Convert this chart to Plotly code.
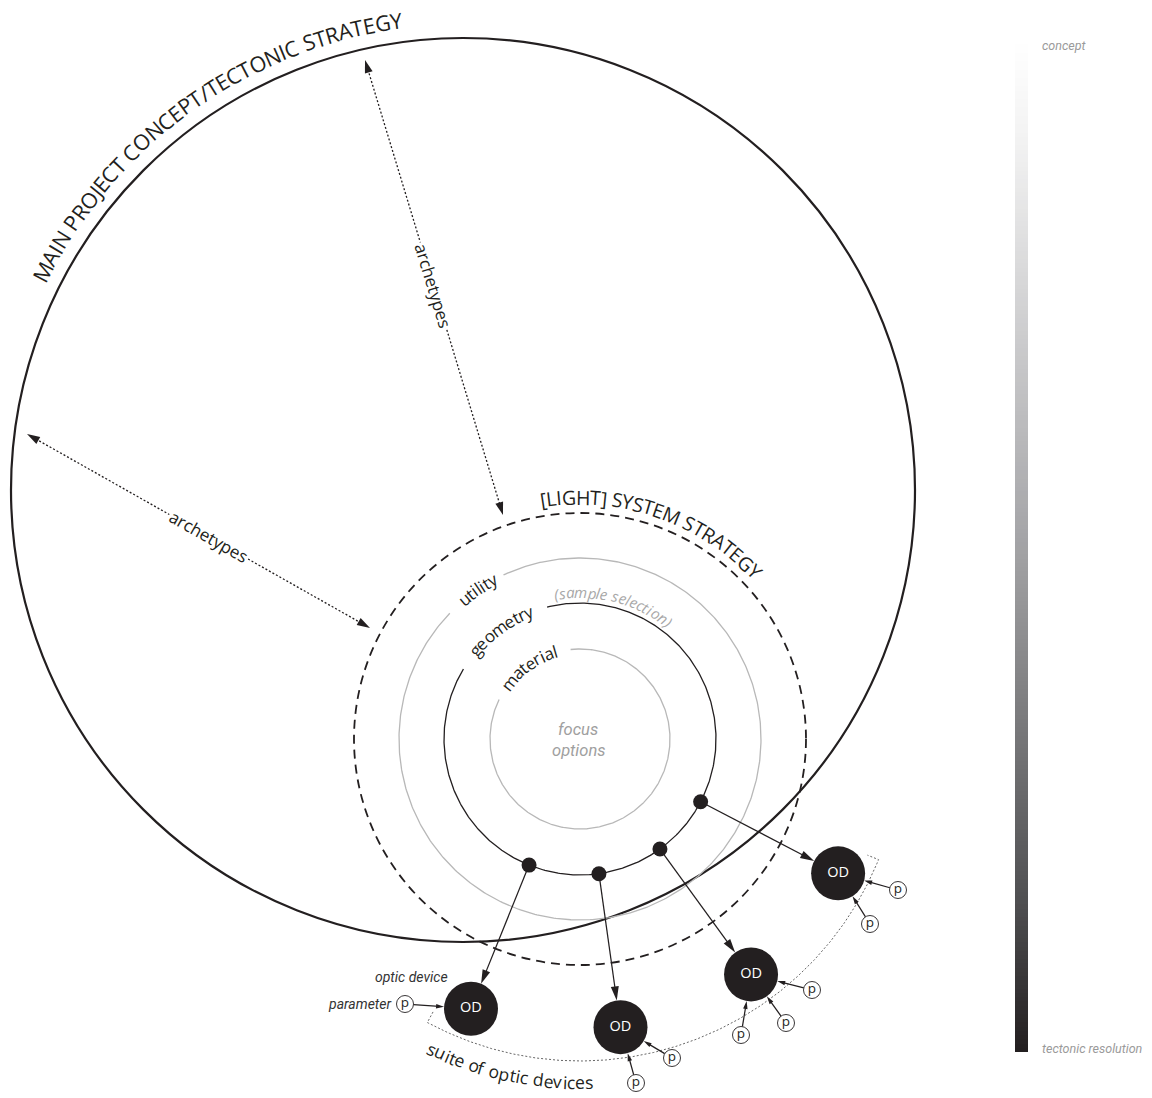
import numpy as np
import plotly.graph_objects as go

W, H = 1152, 1098

# ---------------- data ----------------
big_center = (463, 490)
big_radius = 452
big_title = "MAIN PROJECT CONCEPT/TECTONIC STRATEGY"
big_title_mid = 125.6            # degrees, centre of the curved title

sys_center = (580, 739)
sys_radius = 226
sys_title = "[LIGHT] SYSTEM STRATEGY"
sys_title_mid = 70.9

ring_names = ["utility", "geometry", "material"]
ring_radii = [181, 136, 90]
ring_colors = ["#b8b8b8", "#231f20", "#b8b8b8"]
ring_gap_start = [115, 104, 96]
ring_gap_end = [136, 149, 154]
ring_label_mid = [124.5, 126.0, 125.5]

sample_text = "(sample selection)"
sample_mid = 76.0

focus_lines = ["focus", "options"]

device_angles = [-112, -82, -54, -27.5]
dot_ring_radius = 136
device_ring_radius = 291
device_radius = 27
device_label = "OD"

suite_radius = 322
suite_span = (-118.3, -22)
suite_text = "suite of optic devices"
suite_text_mid = 258.0

param_x = [405, 672, 636, 812, 786, 741, 898, 870]
param_y = [1004, 1058, 1083, 990, 1023, 1035, 890, 924]
param_device = [0, 1, 1, 2, 2, 2, 3, 3]
param_label = "p"

archetype_start_x = [365, 27]
archetype_start_y = [60, 434]
archetype_end_x = [503, 370]
archetype_end_y = [515, 628]
archetype_label_t = [0.495, 0.53]
archetype_label = "archetypes"

scale_top_label = "concept"
scale_bottom_label = "tectonic resolution"
scale_x = [1015, 1028]
scale_y = [40, 1052]

INK = "#231f20"
SANS = "Open Sans"
LIGHT = "Roboto"

# ---------------- helpers ----------------
CW = {
    'A': .633, 'B': .647, 'C': .631, 'D': .729, 'E': .556, 'F': .516, 'G': .728, 'H': .738, 'I': .279,
    'J': .267, 'K': .614, 'L': .519, 'M': .903, 'N': .754, 'O': .779, 'P': .602, 'R': .618, 'S': .549,
    'T': .553, 'U': .728, 'V': .582, 'W': .894, 'X': .577, 'Y': .556, 'Z': .56,
    'a': .556, 'b': .613, 'c': .48, 'd': .613, 'e': .561, 'f': .336, 'g': .546, 'h': .613, 'i': .258,
    'j': .258, 'k': .53, 'l': .258, 'm': .932, 'n': .613, 'o': .602, 'p': .613, 'q': .613, 'r': .408,
    's': .477, 't': .353, 'u': .613, 'v': .5, 'w': .775, 'x': .514, 'y': .5, 'z': .47,
    ' ': .26, '/': .371, '[': .296, ']': .296, '(': .296, ')': .296,
}

annotations = []
shapes = []


def arc_text(text, c, r, a_mid, size, color, family, italic=False, clockwise=True, track=1.0):
    widths = np.array([CW.get(ch, .55) for ch in text]) * size * track
    centers = np.cumsum(widths) - widths / 2
    offs = centers - widths.sum() / 2
    for ch, o in zip(text, offs):
        if ch == ' ':
            continue
        da = np.degrees(o / r)
        a = a_mid - da if clockwise else a_mid + da
        ar = np.radians(a)
        x = c[0] + r * np.cos(ar)
        y = c[1] - r * np.sin(ar)
        ang = (90 - a) if clockwise else (270 - a)
        annotations.append(dict(
            x=x, y=y, text=ch, textangle=ang, showarrow=False,
            xanchor='center', yanchor='middle',
            font=dict(family=family, size=size, color=color,
                      style='italic' if italic else 'normal')))


def polar(c, r, a):
    ar = np.radians(a)
    return c[0] + r * np.cos(ar), c[1] - r * np.sin(ar)


def head(tx, ty, ux, uy, L, Wd, color=INK):
    bx, by = tx - ux * L, ty - uy * L
    px, py = -uy, ux
    path = (f"M {tx:.2f},{ty:.2f} L {bx + px * Wd / 2:.2f},{by + py * Wd / 2:.2f} "
            f"L {bx - px * Wd / 2:.2f},{by - py * Wd / 2:.2f} Z")
    shapes.append(dict(type='path', path=path, xref='x', yref='y',
                       fillcolor=color, line=dict(width=0), layer='above'))


fig = go.Figure()

# ---------------- gradient scale ----------------
levels = np.linspace(0, 1, 240)
edges = np.linspace(scale_y[0], scale_y[1], len(levels) + 1)
fig.add_trace(go.Heatmap(
    x=scale_x, y=edges, z=levels.reshape(-1, 1),
    colorscale=[[0, '#ffffff'], [0.1, '#f2f2f2'], [0.5, '#a3a3a6'], [0.85, '#505052'], [1, '#231f20']],
    showscale=False, hoverinfo='skip'))
annotations.append(dict(x=scale_x[1] + 12, y=scale_y[0] + 5, text=scale_top_label, showarrow=False,
                        xanchor='left', yanchor='middle',
                        font=dict(family=LIGHT, size=12.5, color='#9a9a9a', style='italic')))
annotations.append(dict(x=scale_x[1] + 12, y=scale_y[1] - 4, text=scale_bottom_label, showarrow=False,
                        xanchor='left', yanchor='middle',
                        font=dict(family=LIGHT, size=12.5, color='#9a9a9a', style='italic')))

# ---------------- big circle ----------------
shapes.append(dict(type='circle', xref='x', yref='y',
                   x0=big_center[0] - big_radius, x1=big_center[0] + big_radius,
                   y0=big_center[1] - big_radius, y1=big_center[1] + big_radius,
                   line=dict(color=INK, width=2.2), layer='below'))
arc_text(big_title, big_center, big_radius + 22, big_title_mid, 21.5, INK, SANS)

# ---------------- dashed system circle ----------------
shapes.append(dict(type='circle', xref='x', yref='y',
                   x0=sys_center[0] - sys_radius, x1=sys_center[0] + sys_radius,
                   y0=sys_center[1] - sys_radius, y1=sys_center[1] + sys_radius,
                   line=dict(color=INK, width=1.8, dash='9px,6px'), layer='below'))
arc_text(sys_title, sys_center, sys_radius + 16, sys_title_mid, 19.5, INK, SANS)

# ---------------- rings ----------------
for name, r, col, g0, g1, lm in zip(ring_names, ring_radii, ring_colors, ring_gap_start,
                                    ring_gap_end, ring_label_mid):
    angs = np.linspace(g1, g0 + 360, 500)
    xs, ys = polar(sys_center, r, angs)
    fig.add_trace(go.Scatter(x=xs, y=ys, mode='lines', line=dict(color=col, width=1.3),
                             hoverinfo='skip', showlegend=False))
    arc_text(name, sys_center, r + 1, lm, 17, INK, SANS)

arc_text(sample_text, sys_center, ring_radii[1] + 11, sample_mid, 15, '#a8a8a8', SANS,
         italic=True, track=0.97)

for i, line in enumerate(focus_lines):
    annotations.append(dict(x=sys_center[0] - 2, y=sys_center[1] - 10 + 21 * i, text=line, showarrow=False,
                            xanchor='center', yanchor='middle',
                            font=dict(family=LIGHT, size=16.5, color='#a0a0a0', style='italic')))

# ---------------- suite arc ----------------
angs = np.linspace(suite_span[0], suite_span[1], 400)
sx, sy = polar(sys_center, suite_radius, angs)
tx0, ty0 = polar(sys_center, suite_radius - 12, suite_span[0])
tx1, ty1 = polar(sys_center, suite_radius - 12, suite_span[1])
fig.add_trace(go.Scatter(x=np.concatenate([[tx0], sx, [tx1]]), y=np.concatenate([[ty0], sy, [ty1]]),
                         mode='lines', line=dict(color='#555555', width=0.9, dash='2px,2px'),
                         hoverinfo='skip', showlegend=False))
arc_text(suite_text, sys_center, suite_radius + 21, suite_text_mid, 17.5, INK, SANS, clockwise=False)

# ---------------- archetype arrows ----------------
for x0, y0, x1, y1, tl in zip(archetype_start_x, archetype_start_y, archetype_end_x, archetype_end_y,
                              archetype_label_t):
    d = np.hypot(x1 - x0, y1 - y0)
    ux, uy = (x1 - x0) / d, (y1 - y0) / d
    fig.add_trace(go.Scatter(x=[x0 + ux * 10, x1 - ux * 10], y=[y0 + uy * 10, y1 - uy * 10], mode='lines',
                             line=dict(color=INK, width=1.3, dash='2px,2px'),
                             hoverinfo='skip', showlegend=False))
    head(x1, y1, ux, uy, 13, 8)
    head(x0, y0, -ux, -uy, 13, 8)
    ang = np.degrees(np.arctan2(y1 - y0, x1 - x0))
    annotations.append(dict(x=x0 + (x1 - x0) * tl, y=y0 + (y1 - y0) * tl, text=archetype_label,
                            textangle=ang, showarrow=False, xanchor='center', yanchor='middle',
                            bgcolor='white', borderpad=1,
                            font=dict(family=SANS, size=17, color=INK)))

# ---------------- device arrows ----------------
dev_x, dev_y, dot_x, dot_y = [], [], [], []
for a in device_angles:
    x, y = polar(sys_center, device_ring_radius, a)
    dev_x.append(x); dev_y.append(y)
    x, y = polar(sys_center, dot_ring_radius, a)
    dot_x.append(x); dot_y.append(y)

lx, ly = [], []
for x0, y0, x1, y1 in zip(dot_x, dot_y, dev_x, dev_y):
    d = np.hypot(x1 - x0, y1 - y0)
    ux, uy = (x1 - x0) / d, (y1 - y0) / d
    tx, ty = x1 - ux * device_radius, y1 - uy * device_radius
    lx += [x0, tx - ux * 8, None]
    ly += [y0, ty - uy * 8, None]
    head(tx, ty, ux, uy, 14, 8)

# parameter arrows
for px, py, di in zip(param_x, param_y, param_device):
    x1, y1 = dev_x[di], dev_y[di]
    d = np.hypot(x1 - px, y1 - py)
    ux, uy = (x1 - px) / d, (y1 - py) / d
    tx, ty = x1 - ux * device_radius, y1 - uy * device_radius
    lx += [px + ux * 8.5, tx - ux * 5, None]
    ly += [py + uy * 8.5, ty - uy * 5, None]
    head(tx, ty, ux, uy, 8, 4.5)

fig.add_trace(go.Scatter(x=lx, y=ly, mode='lines', line=dict(color=INK, width=1.25),
                         hoverinfo='skip', showlegend=False))

# dots
fig.add_trace(go.Scatter(x=dot_x, y=dot_y, mode='markers',
                         marker=dict(size=15, color=INK, line=dict(width=0)),
                         hoverinfo='skip', showlegend=False))

# devices
fig.add_trace(go.Scatter(x=dev_x, y=dev_y, mode='markers+text', text=[device_label] * len(dev_x),
                         textposition='middle center',
                         textfont=dict(family=SANS, size=14.5, color='white'),
                         marker=dict(size=2 * device_radius, color=INK, line=dict(width=0)),
                         hoverinfo='skip', showlegend=False))

# parameters
fig.add_trace(go.Scatter(x=param_x, y=param_y, mode='markers+text', text=[param_label] * len(param_x),
                         textposition='middle center',
                         textfont=dict(family=SANS, size=13.5, color=INK),
                         marker=dict(size=17, color='white', line=dict(width=0.9, color=INK)),
                         hoverinfo='skip', showlegend=False))

annotations.append(dict(x=dev_x[0] - 59, y=dev_y[0] - 32, text='optic device', showarrow=False,
                        xanchor='center', yanchor='middle',
                        font=dict(family=LIGHT, size=14, color='#333333', style='italic')))
annotations.append(dict(x=param_x[0] - 12, y=param_y[0], text='parameter', showarrow=False,
                        xanchor='right', yanchor='middle',
                        font=dict(family=LIGHT, size=14, color='#333333', style='italic')))

fig.update_layout(
    width=W, height=H, margin=dict(l=0, r=0, t=0, b=0),
    paper_bgcolor='white', plot_bgcolor='white',
    xaxis=dict(range=[0, W], visible=False, fixedrange=True),
    yaxis=dict(range=[H, 0], visible=False, fixedrange=True),
    shapes=shapes, annotations=annotations, showlegend=False,
)

fig.write_html("out.html", config={'displayModeBar': False},
               post_script="document.body.style.margin='0';document.body.style.overflow='hidden';")
